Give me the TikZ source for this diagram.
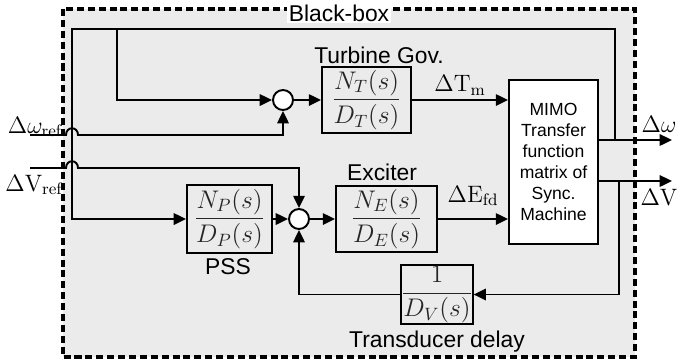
\RequirePackage{fix-cm}
\documentclass[tikz,border=0pt]{standalone}
\usepackage{fontspec}
\newfontfamily\arialfont{Liberation Sans}
\usepackage{amsmath}
\usetikzlibrary{arrows.meta}

\begin{document}
\begin{tikzpicture}[x=0.02cm, y=-0.02cm, line width=1.1pt, >={Triangle[length=7pt, width=6.5pt]},
          b/.style={draw, inner sep=0pt, text=black!85, font=\fontsize{14.5}{16}\selectfont},
          s/.style={draw, circle, fill=white, minimum size=0.4cm, inner sep=0pt},
          t/.style={font=\arialfont\fontsize{13}{15}\selectfont, inner sep=1pt},
          v/.style={font=\fontsize{13.5}{15}\selectfont, inner sep=1pt}]
        \useasboundingbox (0,0) rectangle (678,360);
        \fill[black!8] (63,9) rectangle (635,357);
        \draw[dash pattern=on 4pt off 2.2pt, line width=1.9pt] (63,9) rectangle (635,357);
        \node[t, fill=white] (bb) at (339,13) {Black-box};
        % blocks
        \node[b, minimum width=1.78cm, minimum height=1.32cm] (tg) at (366.5,100) {$\dfrac{N_T(s)}{D_T(s)}$};
        \node[b, minimum width=2.02cm, minimum height=1.32cm] (exc) at (386.5,219) {$\dfrac{N_E(s)}{D_E(s)}$};
        \node[b, minimum width=1.7cm, minimum height=1.36cm] (pss) at (229.5,219) {$\dfrac{N_P(s)}{D_P(s)}$};
        \node[b, minimum width=1.28cm, minimum height=1.18cm] (td) at (437,294.5) {$\dfrac{1}{D_V(s)}$};
        \node[draw, fill=white, minimum width=1.78cm, minimum height=3.28cm, align=center,
              font=\arialfont\fontsize{10}{12}\selectfont] (mimo) at (553.5,162)
              {MIMO\\Transfer\\function\\matrix of\\Sync.\\Machine};
        \node[s] (s1) at (283,100) {};
        \node[s] (s2) at (299,219) {};
        % labels
        \node[t] (tgl) at (379,55) {Turbine Gov.};
        \node[t] (exl) at (382,172) {Exciter};
        \node[t] (pssl) at (228,267) {PSS};
        \node[t] (tdl) at (437,342) {Transducer delay};
        \node[v] (wrl) at (35,127) {$\Delta\omega_{\mathrm{ref}}$};
        \node[v] (vrl) at (34,185) {$\Delta\mathrm{V}_{\mathrm{ref}}$};
        \node[v] (wol) at (659,124) {$\Delta\omega$};
        \node[v] (vol) at (659,198) {$\Delta\mathrm{V}$};
        % free ends
        \coordinate (tl) at (72,29);
        \coordinate (tb) at (117,29);
        \coordinate (jw) at (615,140);
        \coordinate (jv) at (619,181);
        \coordinate (wo) at (672,140);
        \coordinate (vo) at (672,181);
        \coordinate (wr) at (30,135);
        \coordinate (vr) at (30,168);
        % connectors
        \draw[->] (jw) |- (tl) |- (pss.west);
        \draw[->] (tb) |- (s1.west);
        \draw[->] (s1.east) -- (tg.west);
        \draw[->] (tg.east) -- (mimo.west |- tg.east) node[v, midway, above=1pt] (tml) {$\Delta\mathrm{T}_{\mathrm{m}}$};
        \draw[->] (pss.east) -- (s2.west);
        \draw[->] (s2.east) -- (exc.west);
        \draw[->] (exc.east) -- (mimo.west |- exc.east) node[v, midway, above=6pt] (efl) {$\Delta\mathrm{E}_{\mathrm{fd}}$};
        \draw[->] (mimo.east |- jw) -- (wo);
        \draw[->] (mimo.east |- jv) -- (vo);
        \draw[->] (jv) |- (td.east);
        \draw[->] (td.west) -| (s2.south);
        \draw[->] (wr) -- (66,135) .. controls (66,126) and (78,126) .. (78,135) -| (s1.south);
        \draw[->] (vr) -- (66,168) .. controls (66,159) and (78,159) .. (78,168) -| (s2.north);
      \end{tikzpicture}
\end{document}
